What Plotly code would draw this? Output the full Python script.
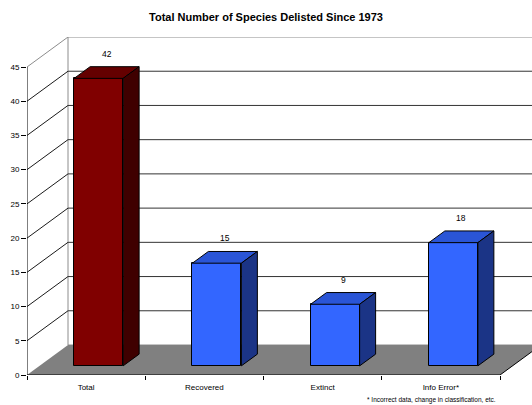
import plotly.graph_objects as go

# ---- data ----
categories = ["Total", "Recovered", "Extinct", "Info Error*"]
values = [42, 15, 9, 18]
y_ticks = [0, 5, 10, 15, 20, 25, 30, 35, 40, 45]
title_text = "Total Number of Species Delisted Since 1973"
footnote_text = "* Incorrect data, change in classification, etc."

# ---- styles / geometry ----
front_colors = ["#800000", "#3366FF", "#3366FF", "#3366FF"]
top_colors = ["#640000", "#2A55D6", "#2A55D6", "#2A55D6"]
side_colors = ["#3F0000", "#1B3486", "#1B3486", "#1B3486"]
FONT = "Liberation Sans, Arial, sans-serif"

W, H = 532, 405
ML, MR, MT, MB = 27, 0, 37, 30
PX_PER_CAT = 118.25
PX_PER_UNIT = 308 / 45.0
DEPTH_PX_X, DEPTH_PX_Y = 41, 30
DX = DEPTH_PX_X / PX_PER_CAT          # depth offset in category units
DY = DEPTH_PX_Y / PX_PER_UNIT         # depth offset in value units
XMAX = (W - ML - MR) / PX_PER_CAT
YMAX = (H - MT - MB) / PX_PER_UNIT
D0, D1 = 0.305, 0.695                 # bar front / back depth fraction
BAR_W = 49 / PX_PER_CAT
N = len(categories)
VMAX = max(y_ticks)

def proj(c, v, d):
    return c + d * DX, v + d * DY

fig = go.Figure()

# ---- walls & floor as shapes below traces ----
shapes = []
# back wall
shapes.append(dict(type="rect", xref="x", yref="y", x0=DX, x1=N + DX, y0=DY, y1=VMAX + DY,
                   fillcolor="white", line=dict(color="#8c8c8c", width=1), layer="below"))
# back-wall gridlines and side-wall diagonals
for t in y_ticks[1:-1]:
    shapes.append(dict(type="line", xref="x", yref="y", x0=DX, x1=N + DX, y0=t + DY, y1=t + DY,
                       line=dict(color="#333333", width=1), layer="below"))
    shapes.append(dict(type="line", xref="x", yref="y", x0=0, x1=DX, y0=t, y1=t + DY,
                       line=dict(color="#1a1a1a", width=1), layer="below"))
shapes.append(dict(type="line", xref="x", yref="y", x0=0, x1=DX, y0=VMAX, y1=VMAX + DY,
                   line=dict(color="#8c8c8c", width=1), layer="below"))
# floor
shapes.append(dict(type="path", xref="x", yref="y",
                   path=f"M 0 0 L {N} 0 L {N + DX} {DY} L {DX} {DY} Z",
                   fillcolor="#808080", line=dict(width=0), layer="below"))
shapes.append(dict(type="line", xref="x", yref="y", x0=N, x1=N + DX, y0=0, y1=DY,
                   line=dict(color="black", width=1), layer="below"))
# front axis lines
shapes.append(dict(type="line", xref="x", yref="y", x0=0, x1=0, y0=0, y1=VMAX,
                   line=dict(color="black", width=1), layer="below"))
shapes.append(dict(type="line", xref="x", yref="y", x0=0, x1=N, y0=0, y1=0,
                   line=dict(color="black", width=1), layer="below"))

# ---- bars: front faces ----
centers = [i + 0.5 for i in range(N)]
fig.add_trace(go.Bar(
    x=[c + D0 * DX for c in centers], y=values, base=[D0 * DY] * N, width=BAR_W,
    marker=dict(color=front_colors, line=dict(color="black", width=1)),
    hoverinfo="skip", showlegend=False))

# ---- bars: top and side faces ----
for c, v, tc, sc in zip(centers, values, top_colors, side_colors):
    l, r = c - BAR_W / 2, c + BAR_W / 2
    pts = [proj(l, v, D0), proj(r, v, D0), proj(r, v, D1), proj(l, v, D1), proj(l, v, D0)]
    fig.add_trace(go.Scatter(x=[p[0] for p in pts], y=[p[1] for p in pts], mode="lines",
                             fill="toself", fillcolor=tc, line=dict(color="black", width=1),
                             hoverinfo="skip", showlegend=False))
    pts = [proj(r, 0, D0), proj(r, 0, D1), proj(r, v, D1), proj(r, v, D0), proj(r, 0, D0)]
    fig.add_trace(go.Scatter(x=[p[0] for p in pts], y=[p[1] for p in pts], mode="lines",
                             fill="toself", fillcolor=sc, line=dict(color="black", width=1),
                             hoverinfo="skip", showlegend=False))

# ---- data labels ----
annotations = []
for c, v in zip(centers, values):
    x, y = proj(c, v, (D0 + D1) / 2)
    annotations.append(dict(x=x, y=v + D1 * DY, xref="x", yref="y", text=str(v), showarrow=False,
                            yanchor="bottom", yshift=6, font=dict(family=FONT, size=8.5, color="black")))
annotations.append(dict(x=(498 - ML) / (W - ML - MR), y=-25 / (H - MT - MB), xref="paper", yref="paper",
                        text=footnote_text, showarrow=False, xanchor="right", yanchor="middle",
                        font=dict(family=FONT, size=6.5, color="black")))

fig.update_layout(
    width=W, height=H,
    margin=dict(l=ML, r=MR, t=MT, b=MB, pad=0),
    paper_bgcolor="white", plot_bgcolor="white",
    title=dict(text="<b>" + title_text + "</b>", x=0.5, xref="container", xanchor="center",
               y=1 - 17 / H, yref="container", yanchor="middle",
               font=dict(family=FONT, size=11, color="black")),
    shapes=shapes, annotations=annotations,
    xaxis=dict(range=[0, XMAX], tickmode="array", tickvals=centers, ticktext=categories,
               ticks="", showgrid=False, zeroline=False, showline=False,
               ticklabelstandoff=6,
               tickfont=dict(family=FONT, size=8, color="black"),
               minor=dict(tickmode="linear", tick0=0, dtick=1, ticks="outside", ticklen=4,
                          tickcolor="black", tickwidth=1, showgrid=False),
               fixedrange=True),
    yaxis=dict(range=[0, YMAX], tickmode="array", tickvals=y_ticks, ticks="outside", ticklen=5,
               tickcolor="black", tickwidth=1, showgrid=False, zeroline=False, showline=False,
               tickfont=dict(family=FONT, size=8, color="black"), fixedrange=True),
    bargap=0,
)

fig.write_html("out.html")
